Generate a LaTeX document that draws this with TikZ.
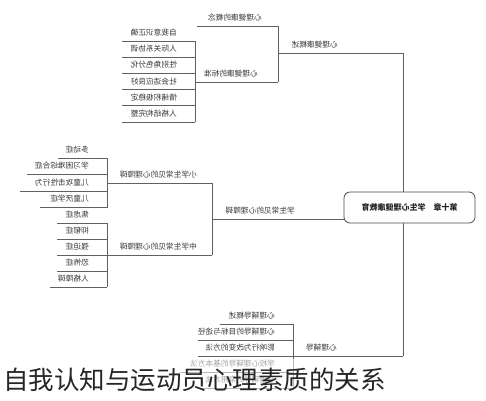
\documentclass[tikz,border=0pt]{standalone}
\usepackage{graphicx}
\usepackage{fontspec}
\newfontfamily\cjk{Noto Sans CJK SC}
\tikzset{
  ln/.style={draw=black!62, line width=0.8pt},
  lab/.style={font=\cjk\fontsize{7.7}{8}\selectfont, text=black!78, inner sep=0pt},
  rootbox/.style={draw=black!70, line width=0.8pt, fill=white, rounded corners=6pt,
    minimum width=131pt, minimum height=31pt, inner sep=0pt,
    font=\cjk\bfseries\fontsize{8}{9}\selectfont, text=black!85},
  caption/.style={font=\cjk\fontsize{25.5}{27}\selectfont, text=black!85, inner sep=0pt},
}
% name, x1, x2, y, text right x, text
\newcommand\topicline[6]{%
  \coordinate (#1-l) at (#2,#4);
  \coordinate (#1-r) at (#3,#4);
  \node[lab, anchor=east] (#1) at (#5,{#4-8.5}) {\reflectbox{#6}};
  \draw[ln] (#1-l) -- (#1-r);
}
\begin{document}
\begin{tikzpicture}[x=1pt,y=-1pt]
\useasboundingbox (0,0) rectangle (486,400);
% ---- top branch
\topicline{t0}{278}{403}{53}{338}{心理健康概述}
\topicline{t1}{197}{278}{26}{262}{心理健康的概念}
\topicline{t2}{195}{278}{82}{258}{心理健康的标准}
\draw[ln] (t1-r) -- (t2-r);
\topicline{s1}{122}{195}{41}{177}{自我意识正确}
\topicline{s2}{122}{195}{57.2}{177}{人际关系协调}
\topicline{s3}{122}{195}{73.4}{177}{性别角色分化}
\topicline{s4}{122}{195}{89.6}{177}{社会适应良好}
\topicline{s5}{122}{195}{105.8}{177}{情绪积极稳定}
\topicline{s6}{122}{195}{122}{177}{人格结构完整}
\draw[ln] (s1-r) -- (s6-r);
% ---- middle branch
\topicline{m0}{212}{344}{219}{295}{学生常见的心理障碍}
\topicline{m1}{107}{212}{183}{197}{小学生常见的心理障碍}
\topicline{m2}{107}{212}{255}{197}{中学生常见的心理障碍}
\draw[ln] (m1-r) -- (m2-r);
\topicline{a1}{58}{107}{158}{89}{多动症}
\topicline{a2}{27}{107}{174.5}{89}{学习困难综合症}
\topicline{a3}{20}{107}{191}{89}{儿童攻击性行为}
\topicline{a4}{40}{107}{207.5}{89}{儿童厌学症}
\draw[ln] (a1-r) -- (a4-r);
\topicline{b1}{57}{107}{223}{89}{焦虑症}
\topicline{b2}{57}{107}{239}{89}{抑郁症}
\topicline{b3}{57}{107}{255}{89}{强迫症}
\topicline{b4}{57}{107}{271}{89}{恐怖症}
\topicline{b5}{50}{107}{287}{89}{人格障碍}
\draw[ln] (b1-r) -- (b5-r);
% ---- bottom branch
\topicline{r0}{293}{403}{356}{337}{心理辅导}
\topicline{c1}{220}{293}{324}{275}{心理辅导概述}
\topicline{c2}{198}{293}{340}{275}{心理辅导的目标与途径}
\topicline{c3}{198}{293}{356}{275}{影响行为改变的方法}
\topicline{c4}{180}{293}{372}{275}{学校心理辅导的基本方法}
\topicline{c5}{197}{293}{388}{275}{心理辅导的常用方法}
\draw[ln] (c1-r) -- (c5-r);
% ---- trunk and root
\draw[ln] (t0-r) -- (r0-r);
\node[rootbox] (root) at (409.5,207.5) {\reflectbox{第十章\quad 学生心理健康教育}};
% ---- caption overlay
\fill[white, opacity=0.55] (0,359) rectangle (486,400);
\node[caption, anchor=west] (cap) at (3,380) {自我认知与运动员心理素质的关系};
\end{tikzpicture}
\end{document}
